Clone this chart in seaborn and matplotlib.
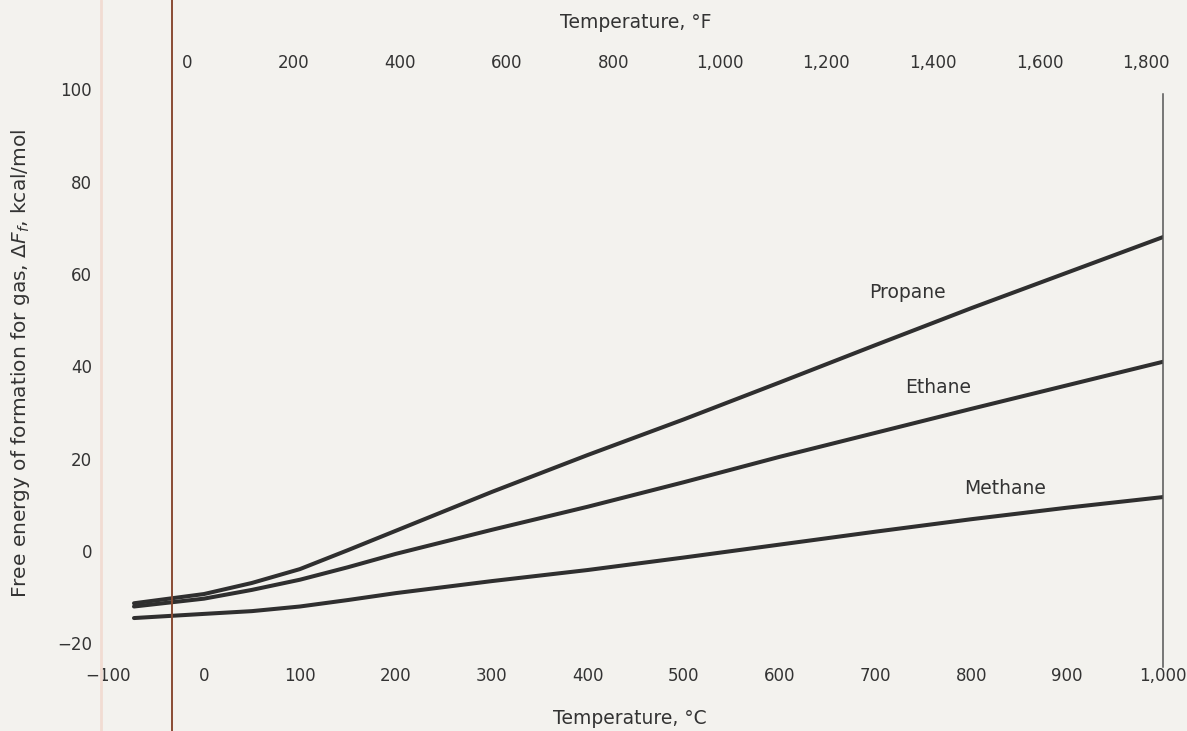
import matplotlib
matplotlib.use("Agg")
import matplotlib.pyplot as plt
from matplotlib.lines import Line2D
from matplotlib.ticker import FuncFormatter, FixedLocator
import seaborn as sns
import pandas as pd

# ---- data ----
temps_c = [-73, 0, 50, 100, 150, 200, 300, 400, 500, 600, 700, 800, 900, 1000]
propane = [-11.3, -9.3, -6.9, -3.9, 0.2, 4.4, 12.8, 20.8, 28.5, 36.5, 44.6, 52.6, 60.3, 68.0]
ethane = [-12.0, -10.3, -8.4, -6.2, -3.5, -0.6, 4.6, 9.6, 14.9, 20.4, 25.6, 30.8, 35.9, 41.0]
methane = [-14.5, -13.6, -13.0, -12.0, -10.6, -9.1, -6.5, -4.1, -1.4, 1.4, 4.2, 6.9, 9.4, 11.7]
gas_names = ["Propane", "Ethane", "Methane"]
label_pos_c = [733, 765, 835]
label_pos_val = [56.1, 35.5, 13.6]

xticks_c = [-100, 0, 100, 200, 300, 400, 500, 600, 700, 800, 900, 1000]
xticks_f = [0, 200, 400, 600, 800, 1000, 1200, 1400, 1600, 1800]
yticks = [-20, 0, 20, 40, 60, 80, 100]

df = pd.DataFrame({
    "temp": temps_c * 3,
    "dF": propane + ethane + methane,
    "gas": sum([[g] * len(temps_c) for g in gas_names], []),
})

sns.set_style("white")
plt.rcParams["font.family"] = ["DejaVu Sans"]

paper = "#f3f2ee"
ink = "#2f2f2f"
txt = "#333333"

fig = plt.figure(figsize=(11.87, 7.31), dpi=100, facecolor=paper)
W, H = 1187, 731
x0, x1 = 108.1, 1163.0
ytop, ybot = 87.0, 667.0
ax = fig.add_axes([x0 / W, 1 - ybot / H, (x1 - x0) / W, (ybot - ytop) / H])
ax.set_facecolor(paper)

sns.lineplot(data=df, x="temp", y="dF", hue="gas", palette=[ink] * 3,
             linewidth=2.9, legend=False, ax=ax, sort=False)

ax.set_xlim(-100, 1000)
ax.set_ylim(-25.1, 100.5)

for s in ["left", "top", "bottom"]:
    ax.spines[s].set_visible(False)
ax.spines["right"].set_visible(True)
ax.spines["right"].set_color("#555555")
ax.spines["right"].set_linewidth(1.1)
ax.spines["right"].set_bounds(-25.1, 99.0)

fmt = FuncFormatter(lambda v, p: f"{v:,.0f}".replace("-", "\u2212"))
ax.xaxis.set_major_locator(FixedLocator(xticks_c))
ax.xaxis.set_major_formatter(fmt)
ax.yaxis.set_major_locator(FixedLocator(yticks))
ax.yaxis.set_major_formatter(fmt)
ax.tick_params(axis="x", length=0, pad=0.0, labelsize=12, colors=txt)
ax.tick_params(axis="y", length=0, pad=11.5, labelsize=12, colors=txt)

ax.set_xlabel("Temperature, °C", fontsize=13.5, color=txt)
ax.xaxis.label.set_va("center")
ax.xaxis.set_label_coords(0.495, -0.088)
ax.set_ylabel(r"Free energy of formation for gas, $\Delta F_f$, kcal/mol",
              fontsize=14.5, color=txt)
ax.yaxis.label.set_va("center")
ax.yaxis.set_label_coords(-0.0834, 0.524)

c2f = lambda c: c * 9.0 / 5.0 + 32.0
f2c = lambda f: (f - 32.0) * 5.0 / 9.0
sec = ax.secondary_xaxis("top", functions=(c2f, f2c))
sec.xaxis.set_major_locator(FixedLocator(xticks_f))
sec.xaxis.set_major_formatter(fmt)
sec.tick_params(axis="x", length=0, pad=11, labelsize=12, colors=txt)
sec.spines["top"].set_visible(False)
sec.set_xlabel("Temperature, °F", fontsize=13.5, color=txt, labelpad=18.5)

for name, xc, yv in zip(gas_names, label_pos_c, label_pos_val):
    ax.text(xc, yv, name, fontsize=13.5, color=txt, ha="center", va="center")

# scanned-page binding edge lines
fig.add_artist(Line2D([172 / W, 172 / W], [0, 1], transform=fig.transFigure,
                      color="#8a4b33", linewidth=1.4))
fig.add_artist(Line2D([101 / W, 101 / W], [0, 1], transform=fig.transFigure,
                      color="#f1dcd2", linewidth=2.0))

fig.savefig("out.png", dpi=100, facecolor=paper)
